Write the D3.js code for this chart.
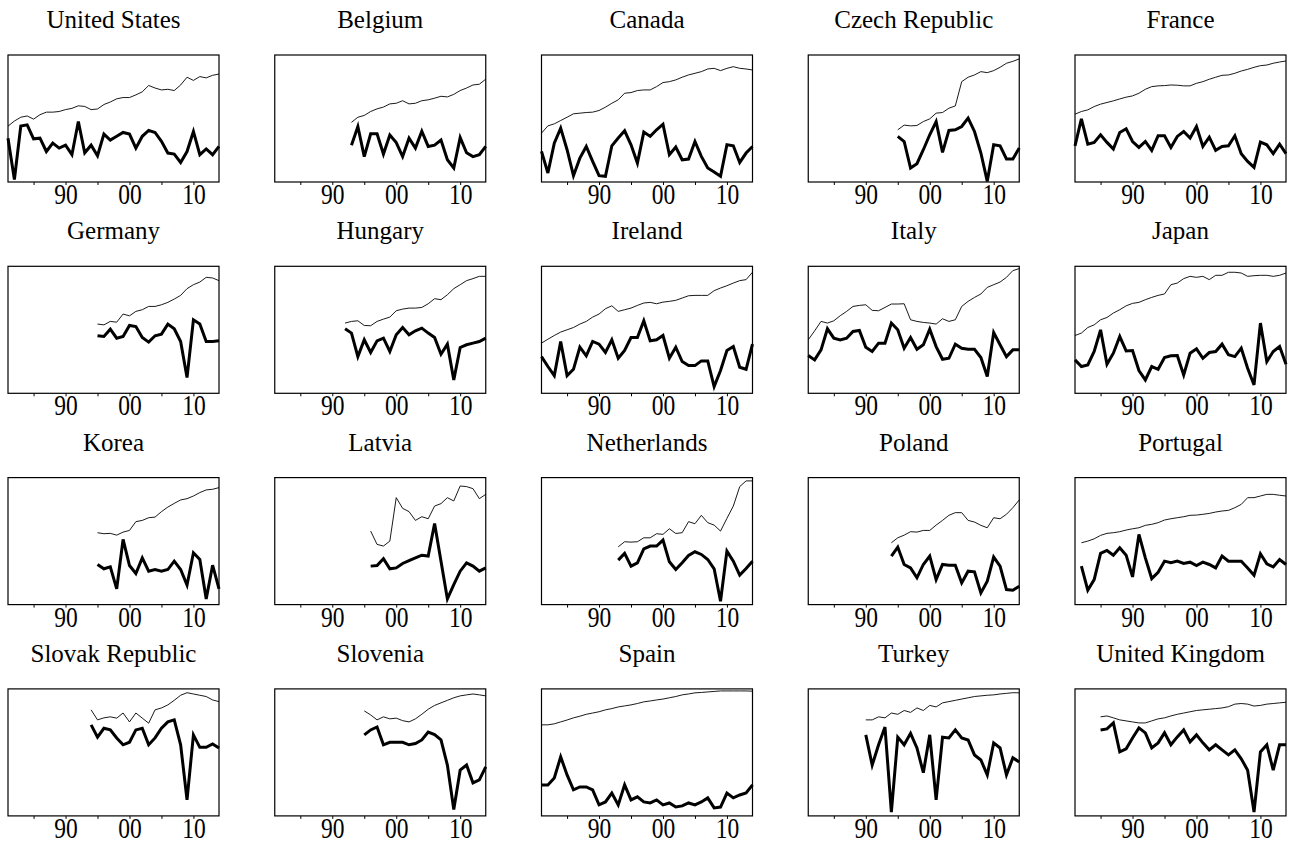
<!DOCTYPE html>
<html>
<head>
<meta charset="utf-8">
<script src="https://cdn.jsdelivr.net/npm/d3@7"></script>
<style>
  body { margin: 0; background: #fff; }
  svg text { font-family: "Liberation Serif", "Times New Roman", serif; fill: #000; }
</style>
</head>
<body>
<div id="chart"></div>
<script>
const FIRST_YEAR = 1981;
const LAST_YEAR = 2014;
const tickYears = [1985, 1990, 1995, 2000, 2005, 2010];

const countries = [
  "United States", "Belgium", "Canada", "Czech Republic", "France",
  "Germany", "Hungary", "Ireland", "Italy", "Japan",
  "Korea", "Latvia", "Netherlands", "Poland", "Portugal",
  "Slovak Republic", "Slovenia", "Spain", "Turkey", "United Kingdom"
];
const startYears = [
  1981, 1993, 1981, 1995, 1981,
  1995, 1992, 1981, 1981, 1981,
  1995, 1996, 1993, 1994, 1982,
  1994, 1995, 1981, 1990, 1985
];

// thin line
const usLevel = [44,48,51,52,49.5,53,55,55,55.5,57,58,60,59.5,57,57.5,61,63,65.5,66.5,66.5,68.6,71,76,74,72.5,73,72,76.4,82.5,80,83,82,84,85];
const beLevel = [47,51,52.4,55.5,57.6,59,61.5,62,64,61.5,62,64,64.7,66,67.5,67,69,72,74,76.4,77,81];
const caLevel = [38.5,44.2,45.8,48.4,51,53.7,54.2,54.7,55,56.3,58.9,62,64.7,69.9,70.4,72,72.5,72.5,75.1,78.3,79,80.4,82.5,84.3,85.6,86.9,89,89.5,87.7,89.5,90.8,89.5,89,88.2];
const czLevel = [41.1,44.8,44.2,44.5,47.6,49.7,54.2,54.7,58.1,59.9,79,82.5,84.3,86.9,86.1,87.7,90.3,93.5,95,96.9];
const frLevel = [53.4,55.5,56.8,59.4,61.3,62.6,63.9,65.4,66.8,67.8,69.9,73,75.1,75.7,75.9,76.4,76.2,75.7,75.7,77.7,79,80.9,82.5,84,84.3,85.6,87.4,88.7,90.3,91.6,92.1,93.5,94.5,95.3];
const deLevel = [54.5,53.9,56.6,56,62.4,61,64.5,65.8,68.4,68.4,69.7,71.6,74.2,77.1,82.4,85.5,87.6,91.3,90.8,88.7];
const huLevel = [55.3,56.6,57.1,53.4,53.2,56.6,58.4,60,65,66.3,67.1,67.1,67.6,70.5,74.5,73.7,77.6,82.4,85.5,88.7,90.3,92.1,92.1];
const ieLevel = [39.5,42.6,45.5,48.2,50,51.8,54.5,56.6,60,62.4,66.6,68.9,64.5,65.8,67.1,69.2,71.1,71.6,70.5,71.8,72.4,73.2,75,76.8,77.1,77.1,77.1,80.8,82.9,84.7,86.8,88.7,89.5,95.3];
const itLevel = [42.1,49.2,56.6,55.3,57.1,61.1,64.5,68.4,69.2,69.7,65.3,65,67.6,70.3,70.3,70.5,57.9,56.6,55.8,55.3,54.5,58.7,56.6,57.9,68.4,72.4,75.5,78.2,83.4,85.5,87.6,91.3,96.6,98.2];
const jpLevel = [45.5,47.4,51.8,53.9,57.9,59.7,63.2,65.8,68.9,70.8,71.6,73.7,75.5,77.1,78.2,85.5,86.8,90.3,92.1,91.3,92.1,89.5,92.9,92.9,95.3,95.3,94.7,92.1,92.6,92.9,92.9,92.1,92.9,94.7];
const krLevel = [56.6,55.8,56.1,54.7,57.1,58.4,65.3,66.3,68.4,68.9,73.2,76.8,79.7,82.4,83.4,85.5,88.2,90.3,90.8,92.1];
const lvLevel = [57.9,47.4,46.1,50,84.2,75.8,73.2,66.3,69.2,67.6,77.6,79.5,84.2,81.6,93.4,92.9,91.3,83.4,86.8];
const nlLevel = [45.5,49.5,49.2,49.5,52.6,52.6,55.8,55.3,59.7,56,56.6,65.3,63.7,70.3,64.5,62.6,57.9,67.9,77.6,92.9,97.4,97.4];
const plLevel = [48.7,52.6,54.7,57.4,57.1,58.4,58.4,62.6,66.3,70.3,72.4,72.4,66.3,65,62.4,60.5,68.4,67.6,71.1,76.3,82.4];
const ptLevel = [48.7,50,51.8,54.5,56.1,56.6,57.4,58.7,59.7,60.5,62.4,63.2,64.5,66.6,67.6,68.4,69.2,70.3,70.5,71.1,71.8,72.9,73.7,74.2,76.3,78.9,84.2,84.2,85.5,86.8,86.8,86.1,85.5];
const skLevel = [83.5,75.6,77.2,78,77,81,74,81,77,73,83.5,85,87.4,91,95,97,96,95,94,91.3,90];
const siLevel = [82.7,79.5,75.6,78,76.4,77,75,74,76.4,80,84,87,89,91,93,94.5,95.3,96,95.3,94.5];
const esLevel = [71.7,71.7,72.5,74,75.5,77.2,78.5,80,81,82,83.5,84.5,85.8,86.6,87.4,88.5,89.8,90.5,91.3,92,93,94,95.3,96,96.9,97.2,97.6,98,98.4,98.4,98.4,98.4,98.4,98.2];
const trLevel = [75.6,75.6,78,77.2,81,80,83,81.5,85,83,87,85.8,89,90,91,92,93,94,94.5,95,95.3,96,96.5,97,96.9];
const ukLevel = [78,78.7,77.2,75.6,74.8,74,73.2,73.2,74.8,76.4,77.2,78.7,80,81,82,83,83.5,84,84.5,85,86,88,88.5,88,86.5,87,88,88.5,89,89.5];

// thick line
const usGrowth = [34.5,2,44,45,34,34.5,24,30.6,26.7,29,21.5,47.6,23,29,20.7,37.7,33,36,39,37.7,26.7,36,40.6,39,32,22.8,22,15.4,24,39.8,21.5,26,21.5,28];
const beGrowth = [29,43.7,20,38,38,22,37,31,20,34.5,26.7,40,28,29,33,17.5,11,35,23,20,21.5,28];
const caGrowth = [24.1,7.1,30.6,42.4,25.4,5,18.8,28,16.2,5,4.5,28.5,34.6,40.3,29.3,14.9,39.3,35.9,41.1,45.5,21.5,27.5,17.5,18.1,31.9,20.2,11,7.9,4.5,29.3,28.5,15.4,22.8,28];
const czGrowth = [35.9,31.9,11,14.4,25.4,37.2,47.6,23.3,40.6,41.1,43.7,50.3,39.8,22.8,0.5,29.3,28.5,18.1,18.1,26.7];
const frGrowth = [28.5,49.7,29.8,31.2,37.2,31.2,25.9,39,41.9,31.9,27.2,31.9,24.9,36.4,36.4,27.2,35.9,39.8,34.6,43.7,28,35.3,24.9,28,28.5,36.4,22.3,16.2,11.5,31.4,29.3,22.3,29.8,22.3];
const deGrowth = [45.3,44.7,50.5,43.4,44.7,53.4,52.6,43.9,40.3,45.3,46.6,54.5,50.8,40.8,12.4,57.9,54.5,40.8,40.8,41.3];
const huGrowth = [50.8,47.4,28.9,42.1,32.1,41.3,43.4,32.9,46.1,51.8,46.1,49.2,51.3,47.4,43.9,30.8,38.7,10.5,36.1,38.2,39.5,40.8,43.4];
const ieGrowth = [28.9,21.1,13.9,40.8,13.9,18.9,36.3,29.5,40.8,38.7,32.1,42.1,27.6,33.7,43.9,43.9,57.1,41.3,42.1,45.5,27.6,36.3,25,21.8,21.8,25.5,25.5,5.3,17.9,33.7,36.8,20.5,18.9,38.7];
const itGrowth = [29.7,26.3,34.2,50.8,43.4,42.1,43.4,48.7,49.5,36.3,32.9,39.5,39.5,55.3,50,35.5,43.9,34.7,38.2,50.5,36.8,26.8,27.6,38.7,35.5,34.7,34.7,28.2,13.2,47.9,38.2,28.9,34.2,34.2];
const jpGrowth = [26.3,21.1,22.4,32.9,50,22.9,31.6,44.7,33.4,33.7,17.9,10.5,21.1,18.9,28.2,29.5,29.7,14.5,31.6,35,27.6,32.1,32.9,38.7,30.3,28.9,35.5,19.7,6.6,55.3,25,32.9,36.8,22.9];
const krGrowth = [31.6,28.2,29.7,12.4,51.3,30.8,24.5,36.8,26.3,27.6,26.3,27.6,34.2,27.6,15.3,40.8,35.5,4.5,31,12.4];
const lvGrowth = [30.3,30.8,36.1,28.2,28.9,32.4,34.7,36.8,38.9,38.2,63.9,34.2,4.5,15.8,26.3,32.9,30.3,26.3,28.9];
const nlGrowth = [35,40.3,30.3,32.9,43.9,46.1,46.1,50.8,33.7,27.6,32.9,38.7,41.6,39.5,35.5,28.2,2.6,42.1,34.2,23.2,28.4,34.2];
const plGrowth = [38.2,45.3,31.6,28.9,21.1,31.6,38.2,19.7,31.6,31,31,17.1,26.3,25.8,9.2,18.4,37.4,30.3,11.8,11.3,14.5];
const ptGrowth = [30.3,11.3,19.7,40.3,42.6,38.9,44.7,38.9,21.8,55.3,36.8,20.5,25.5,34.2,32.9,34.2,32.4,33.4,30.8,33.4,31.6,28.9,38.2,34.2,34.2,34.2,28.9,23.2,40,32.1,29.7,35.5,31.6];
const skGrowth = [71.7,62,69,67.7,61.4,56,58,67.7,69,56,61.4,69,74,75.6,56,12.6,63.8,54,54,56.7,53.5];
const siGrowth = [63.8,67.7,70,56,58,58,58,56,57,59.8,66,64,59.8,40,5,36,40,26,28.3,38.6];
const esGrowth = [24.4,24.4,29.9,46.5,32.3,20.5,22.8,22.8,20.5,8.7,11,18,8.7,24.4,12.6,15,11,10.2,12.6,8.7,10.2,7,7.9,10.2,8.7,11,14.2,6.3,7,18,14.2,16.5,18,24.4];
const trGrowth = [63.8,40,56,70,3,62,56,65,53.5,34,63.8,12.6,62,61.4,67.7,61.4,59.8,48,44,32.3,57.5,53.5,32.3,45.7,42.5];
const ukGrowth = [67.7,68.5,73.2,50.4,52.8,61.4,69.3,65.4,53.5,57.5,65.4,56,62.2,67.7,58.3,63.8,57.5,52,56,52,48,52,45,36,3,50.4,56,36,56,56];

const levelSeries = [usLevel, beLevel, caLevel, czLevel, frLevel, deLevel, huLevel, ieLevel, itLevel, jpLevel,
  krLevel, lvLevel, nlLevel, plLevel, ptLevel, skLevel, siLevel, esLevel, trLevel, ukLevel];
const growthSeries = [usGrowth, beGrowth, caGrowth, czGrowth, frGrowth, deGrowth, huGrowth, ieGrowth, itGrowth, jpGrowth,
  krGrowth, lvGrowth, nlGrowth, plGrowth, ptGrowth, skGrowth, siGrowth, esGrowth, trGrowth, ukGrowth];

const W = 1290, H = 847;
const nCols = 5;
const boxW = 211, boxH = 127;
const left0 = 8, top0 = 55;
const colStep = 266.75, rowStep = 211.3;

const svg = d3.select("#chart").append("svg")
  .attr("width", W)
  .attr("height", H);

const x = d3.scaleLinear().domain([FIRST_YEAR, LAST_YEAR]).range([0, boxW]);
const y = d3.scaleLinear().domain([0, 100]).range([boxH, 0]);

const toPoints = (vals, start) => vals.map((v, i) => ({ year: start + i, v }));
const line = d3.line().x(d => x(d.year)).y(d => y(d.v));

const xAxis = d3.axisBottom(x)
  .tickValues(tickYears)
  .tickSizeInner(3)
  .tickSizeOuter(0)
  .tickFormat(d => d % 10 === 0 ? String(d % 100).padStart(2, "0") : "");

countries.forEach((name, i) => {
  const col = i % nCols, row = Math.floor(i / nCols);
  const g = svg.append("g")
    .attr("transform", `translate(${left0 + col * colStep},${top0 + row * rowStep})`);

  g.append("text")
    .attr("x", boxW / 2)
    .attr("y", -27)
    .attr("text-anchor", "middle")
    .attr("font-size", 25)
    .text(name);

  const ax = g.append("g")
    .attr("transform", `translate(0,${boxH})`)
    .call(xAxis);
  ax.select(".domain").remove();
  ax.selectAll("line").attr("stroke", "#000");
  // the digits in the original are a little taller than wide
  ax.selectAll("text")
    .attr("font-size", 23.5)
    .attr("font-family", null)
    .attr("fill", "#000")
    .attr("y", 0)
    .attr("dy", null)
    .attr("transform", "translate(0,22) scale(1,1.22)");

  g.append("path")
    .datum(toPoints(levelSeries[i], startYears[i]))
    .attr("fill", "none")
    .attr("stroke", "#000")
    .attr("stroke-width", 0.9)
    .attr("d", line);

  g.append("path")
    .datum(toPoints(growthSeries[i], startYears[i]))
    .attr("fill", "none")
    .attr("stroke", "#000")
    .attr("stroke-width", 3)
    .attr("d", line);

  g.append("rect")
    .attr("width", boxW)
    .attr("height", boxH)
    .attr("fill", "none")
    .attr("stroke", "#000")
    .attr("stroke-width", 1.2);
});
</script>
</body>
</html>
